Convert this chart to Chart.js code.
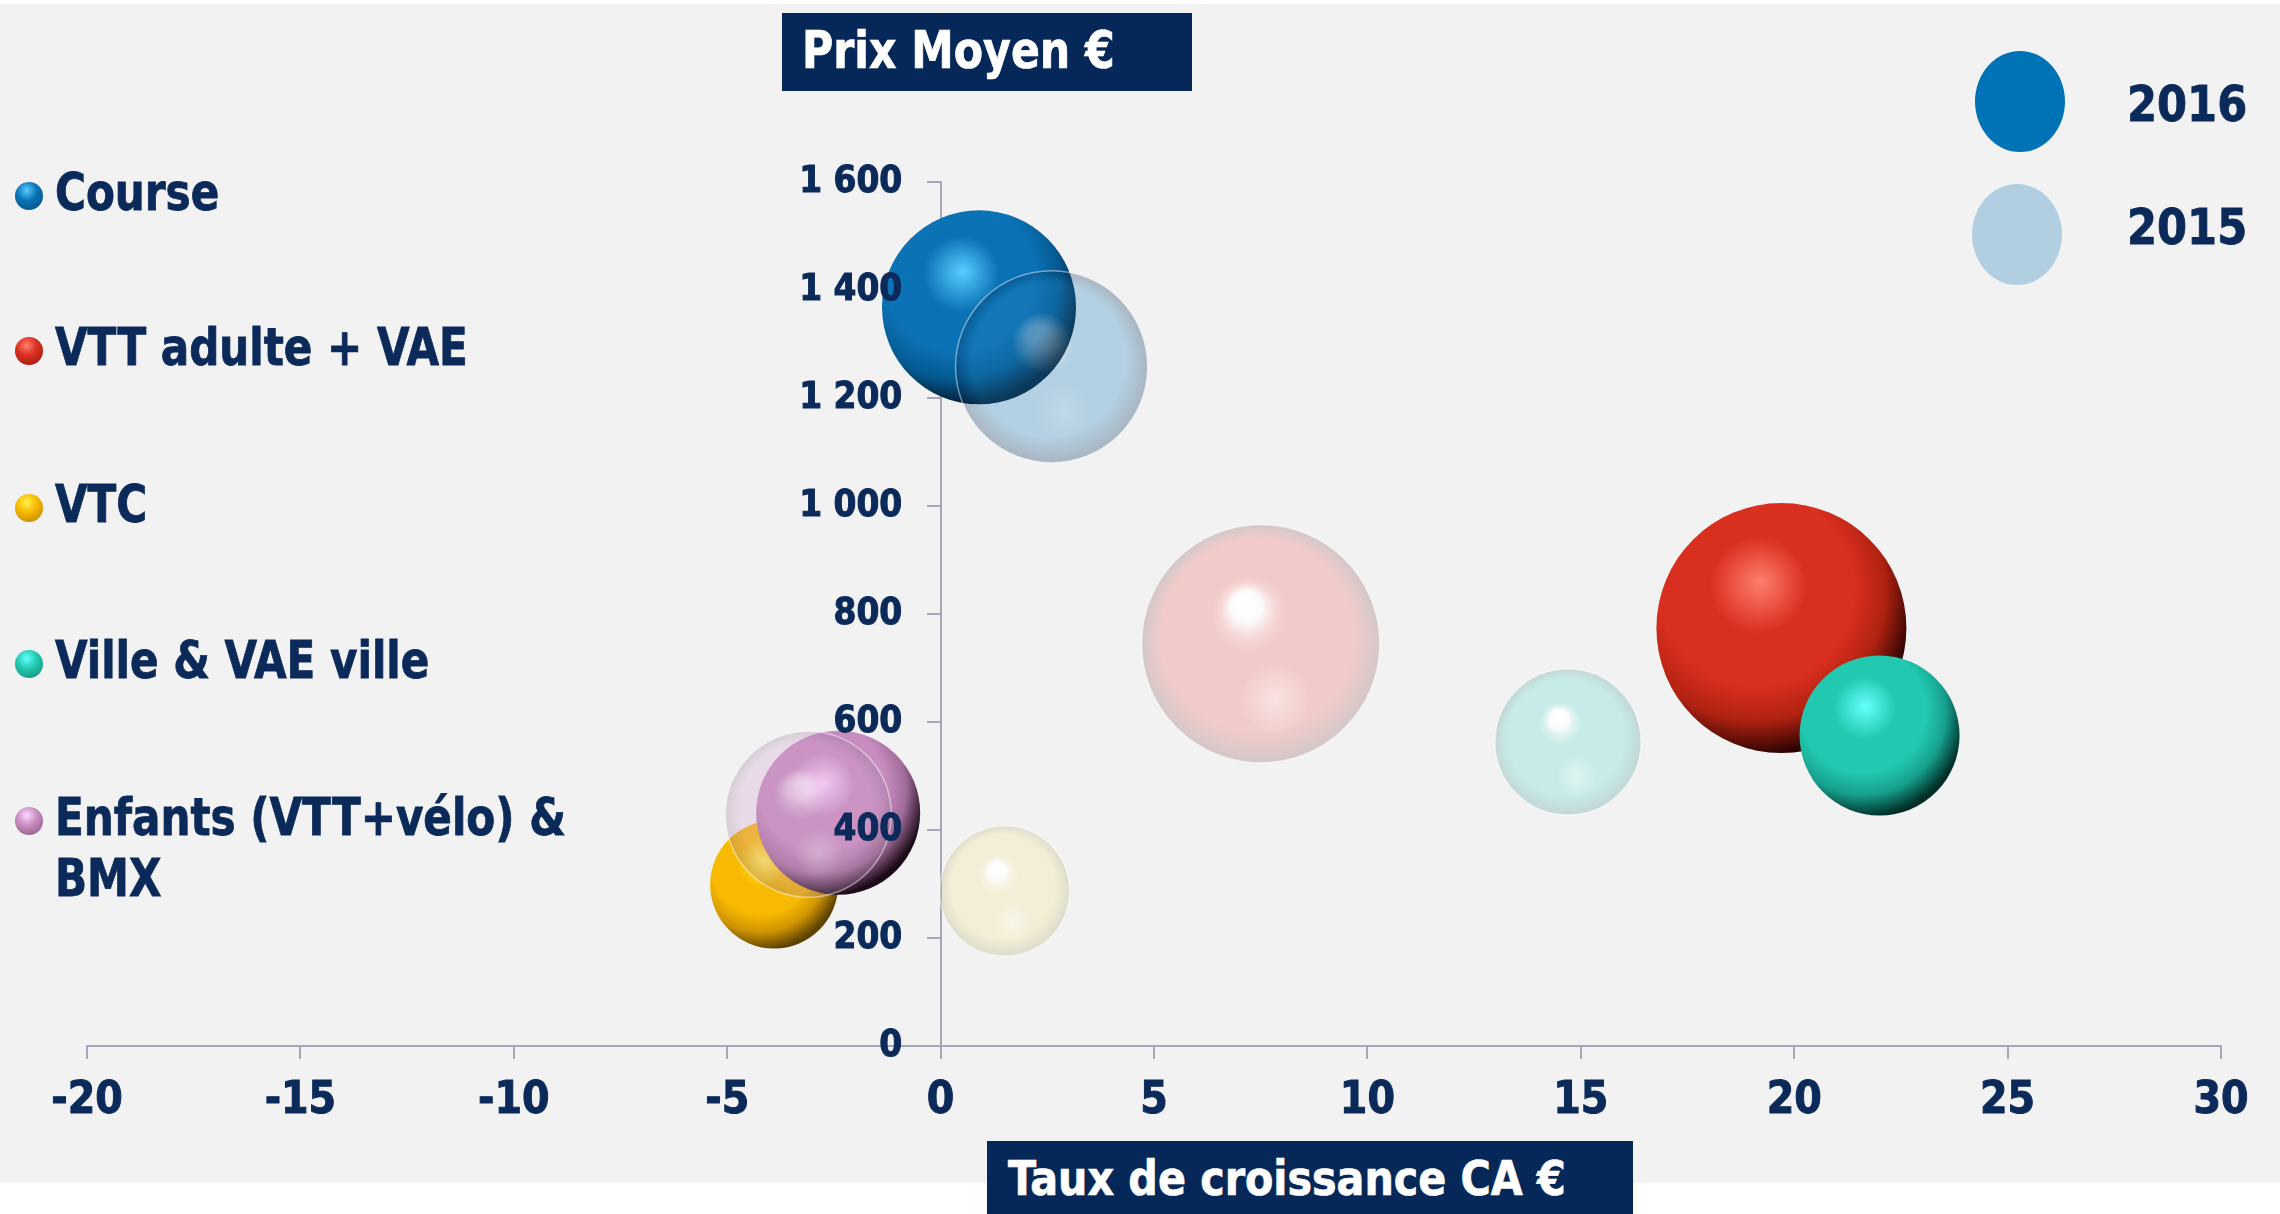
<!DOCTYPE html>
<html lang="fr">
<head>
<meta charset="utf-8">
<title>Prix moyen et taux de croissance du CA</title>
<script src="https://cdn.jsdelivr.net/npm/chart.js@4.4.1/dist/chart.umd.min.js"></script>
<style>
  html, body { margin: 0; padding: 0; background: #fff; }
  body {
    width: 2280px; height: 1214px; position: relative; overflow: hidden;
    font-family: 'DejaVu Sans Condensed', 'DejaVu Sans', sans-serif;
    font-weight: bold; color: #0b2a5a;
  }
  #fond { position: absolute; left: 0; top: 4px; width: 2280px; height: 1179px; background: #f2f2f2; }
  #graphique { position: absolute; left: 0; top: 0; }
  .boite { position: absolute; background: #052858; }
  .boite span { position: absolute; color: #fff; white-space: nowrap; line-height: 1; transform-origin: left top; -webkit-text-stroke: 0.7px #fff; }
  .ligne { position: absolute; left: 55px; font-size: 52px; line-height: 61px; white-space: nowrap; transform: scaleX(0.9); transform-origin: left top; -webkit-text-stroke: 0.8px #0b2a5a; }
  .bille { position: absolute; width: 28px; height: 28px; border-radius: 50%; }
  .annee { position: absolute; left: 2127px; font-size: 50px; line-height: 1; transform: scaleX(0.96); transform-origin: left top; -webkit-text-stroke: 0.8px #0b2a5a; }
  .pastille { position: absolute; width: 90px; height: 101px; border-radius: 50%; }
</style>
</head>
<body>
<div id="fond"></div>
<canvas id="graphique" width="2280" height="1214"></canvas>
<div class="boite" style="left:782px;top:13px;width:410px;height:78px;">
  <span style="left:20px;top:12px;font-size:51px;transform:scaleX(0.93);">Prix Moyen €</span>
</div>
<div class="boite" style="left:987px;top:1141px;width:646px;height:73px;">
  <span style="left:21px;top:13px;font-size:48px;transform:scaleX(0.955);">Taux de croissance CA €</span>
</div>
<div id="legende"></div>
<script>
// catégories et séries
const categories = ["Course", "VTT adulte + VAE", "VTC", "Ville & VAE ville", "Enfants (VTT+vélo) &\nBMX"];
const annees = ["2016", "2015"];

// taux de croissance du CA (%)
const croissance2016 = [0.9, 19.7, -3.9, 22.0, -2.4];
const croissance2015 = [2.6, 7.5, 1.5, 14.7, -3.1];
// prix moyen (€)
const prix2016 = [1368, 774, 299, 575, 432];
const prix2015 = [1258, 745, 287, 563, 429];
// taille des bulles
const taille2016 = [97, 125, 64, 80, 82];
const taille2015 = [96, 119, 65, 73, 83];

const graduationsX = [-20, -15, -10, -5, 0, 5, 10, 15, 20, 25, 30];
const graduationsY = [0, 200, 400, 600, 800, 1000, 1200, 1400, 1600];

const bleuNuit = '#0b2a5a';
const gris = '#a3a7b7';

// couleurs des sphères 2016 : reflet, base, ombre, bord
const spheres2016 = [
  ['#58cdff', '#0b72b5', '#055a92', '#001a2e'],
  ['#ff7d6d', '#d92f1f', '#b02212', '#2a0300'],
  ['#fff04a', '#f8ba00', '#cf9400', '#5e4300'],
  ['#66ffff', '#22c9b0', '#17a08c', '#002f29'],
  ['#ffd6ff', '#c78dbf', '#a06b98', '#1c0b1a']
];
// bulles 2015 : corps rgb, bord rgb, opacité, opacité du reflet
const bulles2015 = [
  [[35, 129, 189], [0, 40, 80], 0.3, 0.35],
  [[242, 145, 140], [167, 137, 137], 0.4, 0.9],
  [[244, 232, 172], [192, 187, 150], 0.4, 0.9],
  [[132, 224, 217], [125, 175, 175], 0.4, 0.9],
  [[209, 162, 202], [150, 120, 150], 0.3, 0.5]
];

function rgba(c, a) { return 'rgba(' + c[0] + ',' + c[1] + ',' + c[2] + ',' + a + ')'; }

function centre(ctx) {
  const s = ctx.chart.scales;
  if (!ctx.raw || !s.x || !s.y) return null;
  const p = { x: s.x.getPixelForValue(ctx.raw.x), y: s.y.getPixelForValue(ctx.raw.y), r: ctx.raw.r };
  return (isFinite(p.x) && isFinite(p.y) && p.r > 0) ? p : null;
}

function fond2016(ctx) {
  const c = spheres2016[ctx.dataIndex];
  const p = centre(ctx);
  if (!p) return c[1];
  const g = ctx.chart.ctx.createRadialGradient(p.x - 0.17 * p.r, p.y - 0.37 * p.r, 0,
                                               p.x - 0.22 * p.r, p.y - 0.28 * p.r, 1.3 * p.r);
  g.addColorStop(0, c[0]);
  g.addColorStop(0.3, c[1]);
  g.addColorStop(0.6, c[1]);
  g.addColorStop(0.8, c[2]);
  g.addColorStop(1, c[3]);
  return g;
}

function fond2015(ctx) {
  const b = bulles2015[ctx.dataIndex];
  const p = centre(ctx);
  if (!p) return rgba(b[0], b[2]);
  const g = ctx.chart.ctx.createRadialGradient(p.x - 0.14 * p.r, p.y - 0.36 * p.r, 0, p.x, p.y, p.r);
  g.addColorStop(0, 'rgba(255,255,255,' + b[3] + ')');
  g.addColorStop(0.13, 'rgba(255,255,255,' + (b[3] * 0.85) + ')');
  g.addColorStop(0.32, rgba(b[0], b[2]));
  g.addColorStop(0.8, rgba(b[0], b[2]));
  g.addColorStop(1, rgba(b[1], b[2]));
  return g;
}

function points(xs, ys, rs) {
  return xs.map((x, i) => ({ x: x, y: ys[i], r: rs[i] }));
}

// second reflet, en bas des bulles 2015
const reflets = {
  id: 'reflets',
  afterDatasetsDraw(chart) {
    const c = chart.ctx;
    chart.getDatasetMeta(1).data.forEach((pt, i) => {
      const r = pt.options.radius;
      if (!isFinite(pt.x) || !isFinite(pt.y) || !(r > 0)) return;
      const gx = pt.x + 0.12 * r, gy = pt.y + 0.47 * r, rr = 0.3 * r;
      const g = c.createRadialGradient(gx, gy, 0, gx, gy, rr);
      const a = bulles2015[i][3] * 0.5;
      g.addColorStop(0, 'rgba(255,255,255,' + a + ')');
      g.addColorStop(1, 'rgba(255,255,255,0)');
      c.save();
      c.fillStyle = g;
      c.beginPath();
      c.arc(gx, gy, rr, 0, Math.PI * 2);
      c.fill();
      c.restore();
    });
  }
};

Chart.defaults.font.family = "'DejaVu Sans Condensed', 'DejaVu Sans', sans-serif";
Chart.defaults.font.weight = 'bold';
Chart.defaults.color = bleuNuit;

// l'axe Y posé sur x = 0 n'écarte pas ses libellés : on ajoute l'espace à la main
const fmt = v => (v >= 1000 ? Math.floor(v / 1000) + ' ' + String(v % 1000).padStart(3, '0') : String(v)) + '\u2003\u2006';

new Chart(document.getElementById('graphique'), {
  type: 'bubble',
  data: {
    datasets: [{
      label: annees[0],
      data: points(croissance2016, prix2016, taille2016),
      backgroundColor: fond2016,
      borderWidth: 0,
      order: 2,
      clip: false
    }, {
      label: annees[1],
      data: points(croissance2015, prix2015, taille2015),
      backgroundColor: fond2015,
      borderColor: 'rgba(255,255,255,0.45)',
      borderWidth: 1.5,
      order: 1,
      clip: false
    }]
  },
  options: {
    responsive: false,
    animation: false,
    events: [],
    layout: { autoPadding: false, padding: { left: 87, right: 59, top: 182, bottom: 0 } },
    plugins: { legend: { display: false }, tooltip: { enabled: false } },
    scales: {
      x: {
        type: 'linear', min: -20, max: 30,
        afterBuildTicks: s => { s.ticks = graduationsX.map(v => ({ value: v })); },
        afterFit: s => { s.height = 168; },
        grid: { drawOnChartArea: false, tickLength: 13, color: gris, lineWidth: 2 },
        border: { color: gris, width: 2 },
        ticks: {
          font: { size: 44 }, padding: 16, maxRotation: 0, callback: v => String(v),
          textStrokeColor: bleuNuit, textStrokeWidth: 1
        }
      },
      y: {
        type: 'linear', min: 0, max: 1600, position: { x: 0 },
        afterBuildTicks: s => { s.ticks = graduationsY.map(v => ({ value: v })); },
        grid: { drawOnChartArea: false, tickLength: 13, color: gris, lineWidth: 2 },
        border: { color: gris, width: 2 },
        ticks: {
          z: 1, font: { size: 36.6 }, padding: 27, callback: v => fmt(v),
          textStrokeColor: bleuNuit, textStrokeWidth: 1
        }
      }
    }
  },
  plugins: [reflets]
});

// légendes
const legende = document.getElementById('legende');
const bases = [210, 365.5, 522, 678, 835];
categories.forEach((nom, i) => {
  const c = spheres2016[i];
  const bille = document.createElement('div');
  bille.className = 'bille';
  bille.style.left = '15px';
  bille.style.top = (bases[i] - 28.5) + 'px';
  bille.style.background = 'radial-gradient(circle at 42% 30%, ' + c[0] + ' 0%, ' + c[1] + ' 40%, ' + c[2] + ' 75%, ' + c[3] + ' 110%)';
  legende.appendChild(bille);
  const ligne = document.createElement('div');
  ligne.className = 'ligne';
  ligne.style.top = (bases[i] - 48.5) + 'px';
  ligne.innerHTML = nom.replace('&', '&amp;').replace('\n', '<br>');
  legende.appendChild(ligne);
});
const pastilles = [['#0073b6', 51, 101.5, 2019.6], ['#b1cfe1', 183.9, 234.4, 2016.6]];
annees.forEach((a, i) => {
  const p = document.createElement('div');
  p.className = 'pastille';
  p.style.background = pastilles[i][0];
  p.style.left = (pastilles[i][3] - 45) + 'px';
  p.style.top = pastilles[i][1] + 'px';
  legende.appendChild(p);
  const t = document.createElement('div');
  t.className = 'annee';
  t.style.top = ([121.7, 244][i] - 42.3) + 'px';
  t.textContent = a;
  legende.appendChild(t);
});
</script>
</body>
</html>
